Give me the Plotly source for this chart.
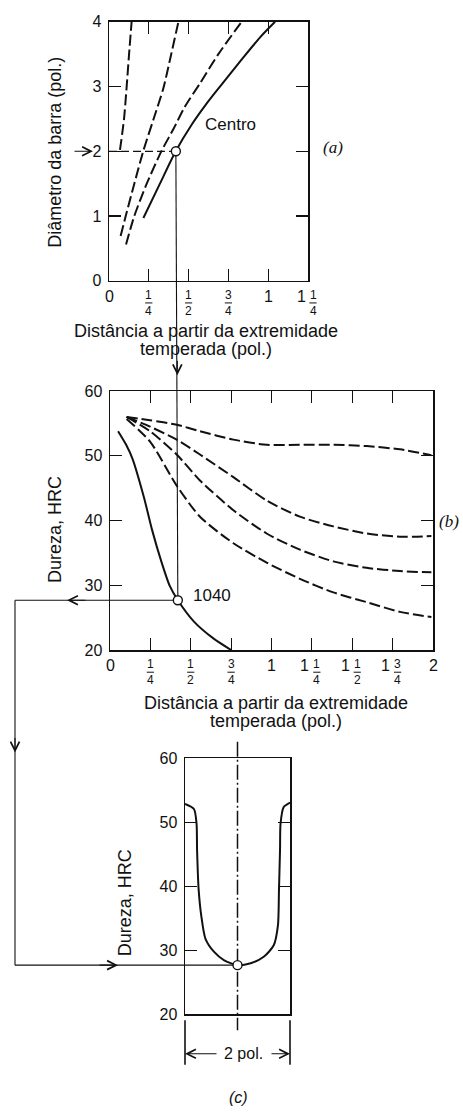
import plotly.graph_objects as go

# ------------------------------------------------------------------ data
# (a) bar diameter (pol.) vs. distance from the quenched end (pol.)
a_c1_x = [0.069, 0.094, 0.111, 0.126, 0.142]
a_c1_y = [2.02, 2.49, 3.00, 3.50, 4.00]
a_c2_x = [0.073, 0.105, 0.159, 0.216, 0.279, 0.341, 0.389, 0.436]
a_c2_y = [0.69, 1.00, 1.50, 2.01, 2.49, 2.97, 3.48, 4.00]
a_c3_x = [0.107, 0.159, 0.237, 0.331, 0.404, 0.477, 0.572, 0.687, 0.833]
a_c3_y = [0.56, 1.00, 1.50, 2.01, 2.34, 2.69, 3.05, 3.50, 4.00]
a_centro_x = [0.216, 0.320, 0.419, 0.519, 0.614, 0.697, 0.844, 0.949, 1.043]
a_centro_y = [0.97, 1.50, 2.00, 2.41, 2.74, 3.00, 3.45, 3.76, 4.00]

# (b) hardness HRC vs. distance from the quenched end (pol.)
b_1040_x = [0.05, 0.10, 0.14, 0.21, 0.26, 0.32, 0.37, 0.42, 0.52, 0.64, 0.75]
b_1040_y = [53.8, 51.7, 49.5, 43.6, 38.6, 33.5, 29.9, 27.7, 24.4, 21.8, 20.0]
b_dash_x = [0.103, 0.248, 0.413, 0.557, 0.764, 0.970, 1.176, 1.383, 1.589, 1.796, 1.99]
b_d1_y = [56.0, 55.5, 54.8, 53.8, 52.5, 51.7, 51.7, 51.7, 51.5, 51.0, 50.1]
b_d2_y = [56.0, 54.5, 52.5, 50.2, 46.7, 43.1, 40.6, 39.1, 38.0, 37.5, 37.6]
b_d3_y = [56.0, 53.8, 50.2, 46.2, 41.6, 38.0, 35.5, 33.7, 32.7, 32.2, 32.0]
b_d4_y = [55.7, 52.2, 45.4, 40.6, 36.5, 33.5, 31.0, 28.9, 27.4, 25.9, 25.1]

# (c) hardness profile across a 2 pol. bar
c_x = [-1.00, -0.83, -0.78, -0.77, -0.74, -0.69, -0.61, -0.45, -0.26, 0.00,
       0.25, 0.50, 0.69, 0.77, 0.79, 0.81, 0.82, 0.88, 1.00]
c_y = [52.9, 52.1, 49.8, 45.7, 39.5, 35.4, 31.8, 29.8, 28.5, 27.7,
       28.0, 29.0, 30.8, 33.9, 39.5, 45.7, 49.8, 52.4, 53.1]

# reading path (guide)
guide_dist = 0.42   # pol.
guide_diam = 2.0    # pol.
guide_hrc = 27.7    # HRC

# ticks
xa_ticks = [0, 0.25, 0.5, 0.75, 1.0, 1.25]
xa_labels = ["0", "1/4", "1/2", "3/4", "1", "1 1/4"]
xb_ticks = [0, 0.25, 0.5, 0.75, 1.0, 1.25, 1.5, 1.75, 2.0]
xb_labels = ["0", "1/4", "1/2", "3/4", "1", "1 1/4", "1 1/2", "1 3/4", "2"]
ya_ticks = [0, 1, 2, 3, 4]
yh_ticks = [20, 30, 40, 50, 60]

# ------------------------------------------------------------------ geometry
W, H = 463, 1115
FONT = "Liberation Sans, Arial, sans-serif"
SERIF = "Liberation Serif, Times New Roman, serif"
INK = "#111111"

PAN = {
    "a": dict(px=(109, 308), py=(14, 277), xr=(0.0, 1.25), yr=(0.0, 4.0), xa="x", ya="y"),
    "b": dict(px=(110, 433), py=(389, 652), xr=(0.0, 2.0), yr=(20.0, 60.0), xa="x2", ya="y2"),
    "c": dict(px=(185, 290), py=(762, 1022), xr=(-1.0, 1.0), yr=(20.0, 60.0), xa="x3", ya="y3"),
}


def px_of_x(p, v):
    (p0, p1), (r0, r1) = p["px"], p["xr"]
    return p0 + (v - r0) / (r1 - r0) * (p1 - p0)


def px_of_y(p, v):
    (p0, p1), (r0, r1) = p["py"], p["yr"]
    return p1 - (v - r0) / (r1 - r0) * (p1 - p0)


def fx(px):
    return px / W


def fy(py):
    return 1 - py / H


A, B, C = PAN["a"], PAN["b"], PAN["c"]

fig = go.Figure()


def curve(p, x, y, dash=None):
    fig.add_trace(go.Scatter(
        x=x, y=y, mode="lines", xaxis=p["xa"], yaxis=p["ya"],
        line=dict(color=INK, width=2, dash=dash, shape="spline", smoothing=0.7),
        hoverinfo="skip", showlegend=False))


DASH = "11px,4px"
curve(A, a_c1_x, a_c1_y, DASH)
curve(A, a_c2_x, a_c2_y, DASH)
curve(A, a_c3_x, a_c3_y, DASH)
curve(A, a_centro_x, a_centro_y)

curve(B, b_1040_x, b_1040_y)
curve(B, b_dash_x, b_d1_y, DASH)
curve(B, b_dash_x, b_d2_y, DASH)
curve(B, b_dash_x, b_d3_y, DASH)
curve(B, b_dash_x, b_d4_y, DASH)

curve(C, c_x, c_y)


def marker(p, x, y):
    fig.add_trace(go.Scatter(
        x=[x], y=[y], mode="markers", xaxis=p["xa"], yaxis=p["ya"],
        marker=dict(size=9, color="white", line=dict(color=INK, width=1.4)),
        hoverinfo="skip", showlegend=False, cliponaxis=False))


marker(A, guide_dist, guide_diam)
marker(B, guide_dist, guide_hrc)
marker(C, 0.0, guide_hrc)

# ------------------------------------------------------------------ axes
common = dict(showline=True, linecolor=INK, linewidth=1.5, mirror="ticks",
              ticks="inside", ticklen=12, tickwidth=1.2, tickcolor=INK,
              showgrid=False, zeroline=False, fixedrange=True,
              tickfont=dict(family=FONT, size=16, color=INK))


def xdom(p):
    return [fx(p["px"][0]), fx(p["px"][1])]


def ydom(p):
    return [fy(p["py"][1]), fy(p["py"][0])]


fig.update_layout(
    xaxis=dict(common, domain=xdom(A), range=list(A["xr"]), tickvals=xa_ticks,
               showticklabels=False, anchor="y"),
    yaxis=dict(common, domain=ydom(A), range=list(A["yr"]), tickvals=ya_ticks,
               anchor="x", ticklabelstandoff=3),
    xaxis2=dict(common, domain=xdom(B), range=list(B["xr"]), tickvals=xb_ticks,
                showticklabels=False, anchor="y2"),
    yaxis2=dict(common, domain=ydom(B), range=list(B["yr"]), tickvals=yh_ticks,
                anchor="x2", ticklabelstandoff=3),
    xaxis3=dict(common, domain=xdom(C), range=list(C["xr"]), tickvals=[],
                ticks="", showticklabels=False, anchor="y3"),
    yaxis3=dict(common, domain=ydom(C), range=list(C["yr"]), tickvals=yh_ticks,
                anchor="x3", ticklabelstandoff=3),
)

# ------------------------------------------------------------------ guides
ax_, ay_ = px_of_x(A, guide_dist), px_of_y(A, guide_diam)
bx_, by_ = px_of_x(B, guide_dist), px_of_y(B, guide_hrc)
cx_, cy_ = px_of_x(C, 0.0), px_of_y(C, guide_hrc)
LEFT = 15

shapes = []


def seg(x0, y0, x1, y1, width=1.1, dash=None, layer="below"):
    shapes.append(dict(type="line", xref="paper", yref="paper",
                       x0=fx(x0), y0=fy(y0), x1=fx(x1), y1=fy(y1), layer=layer,
                       line=dict(color=INK, width=width, dash=dash)))


seg(A["px"][0], ay_, ax_, ay_, 1.3, "8px,4px")
seg(ax_, ay_, bx_, by_)
seg(bx_, by_, LEFT, by_)
seg(LEFT, by_, LEFT, cy_)
seg(LEFT, cy_, cx_, cy_)
# centre line of the bar (c)
seg(cx_, C["py"][0] - 17, cx_, C["py"][1] + 16, 1.5, "15px,3px,2px,3px")
# dimension lines for 2 pol.
xl, xr = px_of_x(C, -1.0), px_of_x(C, 1.0)
seg(xl, C["py"][1] + 6, xl, C["py"][1] + 51, 1.6)
seg(xr, C["py"][1] + 6, xr, C["py"][1] + 51, 1.6)

ann = []


def arrow(tipx, tipy, dx, dy):
    ann.append(dict(xref="paper", yref="paper", x=fx(tipx), y=fy(tipy),
                    ax=dx, ay=dy, axref="pixel", ayref="pixel", text="",
                    showarrow=True, arrowhead=5, arrowsize=1.6, arrowwidth=1.1,
                    arrowcolor=INK, standoff=0, startstandoff=0))


arrow(93, ay_, -20, 0)
arrow(bx_ - 0.5, B["py"][0] - 16, 0, -16)
arrow(67, by_, 20, 0)
arrow(LEFT, 756, 0, -16)
arrow(118, cy_, -20, 0)
DIM_Y = C["py"][1] + 40
arrow(xl, DIM_Y, 33, 0)
arrow(xr, DIM_Y, -20, 0)


def text(x, y, s, size=17, xanchor="center", yanchor="middle", angle=0,
         family=FONT, italic=False, base=None):
    if italic:
        s = "<i>" + s + "</i>"
    fsize = size
    if base is not None:
        # render at `size` but use a tighter line spacing (based on `base`)
        s = "<br>".join('<span style="font-size:%dpx">%s</span>' % (size, part)
                        for part in s.split("<br>"))
        fsize = base
    ann.append(dict(xref="paper", yref="paper", x=fx(x), y=fy(y), text=s,
                    showarrow=False, xanchor=xanchor, yanchor=yanchor,
                    textangle=angle, font=dict(family=family, size=fsize, color=INK)))


def xlabels(p, vals, labels):
    base = p["py"][1]
    for v, lab in zip(vals, labels):
        parts = lab.split(" ")
        whole, frac = None, None
        if len(parts) == 2:
            whole, frac = parts
        elif "/" in lab:
            frac = lab
        else:
            whole = lab
        x = px_of_x(p, v)
        if whole is not None:
            text(x - (7 if frac else 0), base + 15.5, whole, 16)
        if frac is not None:
            n, d = frac.split("/")
            fxp = x + (5 if whole else 0)
            text(fxp, base + 22.5, n + "<br>" + d, 12)
            seg(fxp - 3.6, base + 22.5, fxp + 3.6, base + 22.5, 1.0, layer="above")


xlabels(A, xa_ticks, xa_labels)
xlabels(B, xb_ticks, xb_labels)

# axis titles
text(55, 147, "Diâmetro da barra (pol.)", 18, angle=-90)
text(206, 337, "Distância a partir da extremidade<br>temperada (pol.)", 18, base=14)
text(55, 530, "Dureza, HRC", 18, angle=-90)
text(276, 715, "Distância a partir da extremidade<br>temperada (pol.)", 18, base=14)
text(125, 908, "Dureza, HRC", 18, angle=-90)

# in-plot labels
text(px_of_x(A, 0.59), px_of_y(A, 2.42), "Centro", 17, xanchor="left")
text(px_of_x(B, 0.50), px_of_y(B, 28.4), "1040", 17, xanchor="left")
text(243, DIM_Y, "2 pol.", 16)
text(333, 142, "(a)", 17, family=SERIF, italic=True)
text(449, 521, "(b)", 17, family=SERIF, italic=True)
text(238, 1106, "(c)", 16, italic=True)

fig.update_layout(
    width=W, height=H, margin=dict(l=0, r=0, t=0, b=0),
    paper_bgcolor="white", plot_bgcolor="rgba(0,0,0,0)",
    showlegend=False, shapes=shapes, annotations=ann,
    font=dict(family=FONT, color=INK),
)

fig.write_html("out.html",
               config={"displayModeBar": False, "staticPlot": True},
               post_script="document.body.style.margin='0';"
                           "document.body.style.overflow='hidden';")
